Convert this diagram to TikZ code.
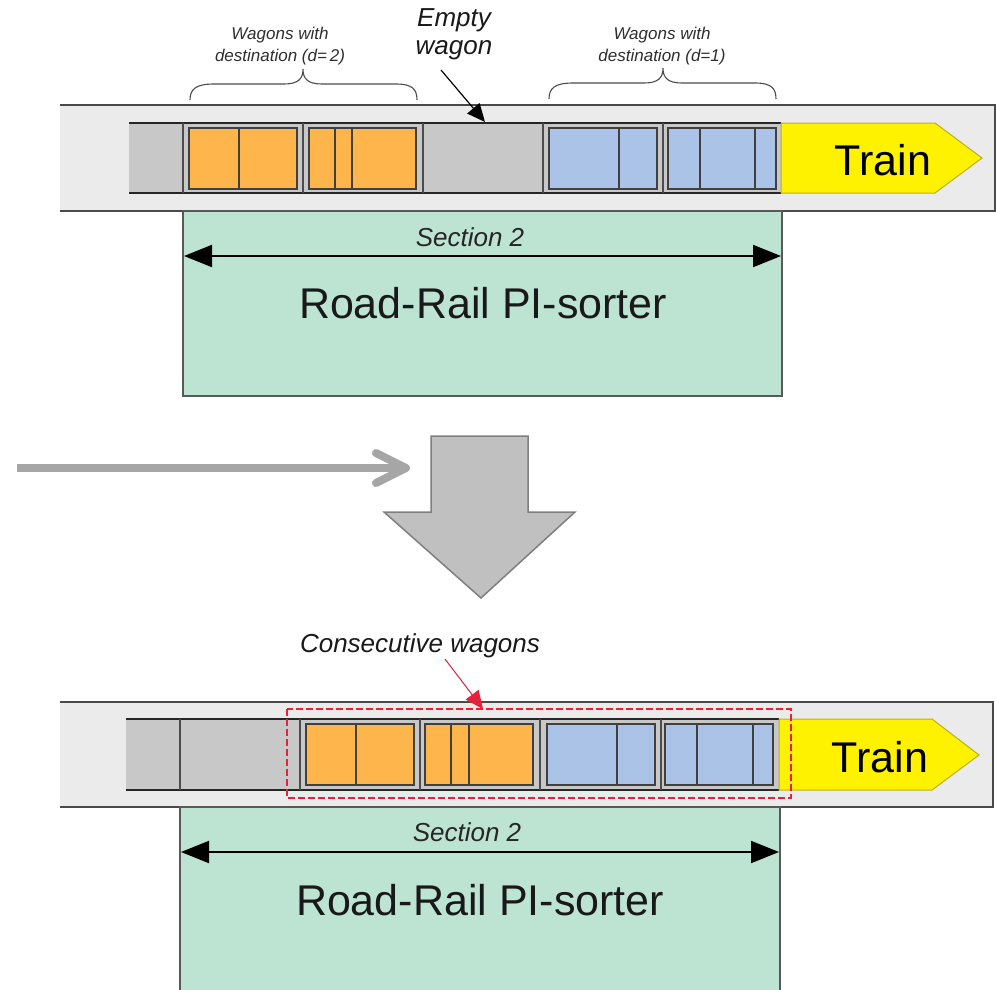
\documentclass[tikz,border=0pt]{standalone}
\usepackage{fontspec}
\setmainfont{Liberation Sans}
\usetikzlibrary{arrows.meta}
\definecolor{railc}{HTML}{EBEBEB}
\definecolor{raillinec}{HTML}{4A4A4A}
\definecolor{stripc}{HTML}{C8C8C8}
\definecolor{orangec}{HTML}{FDB54C}
\definecolor{bluec}{HTML}{AAC3E6}
\definecolor{yellowc}{HTML}{FFF200}
\definecolor{yellowline}{HTML}{B8AE2A}
\definecolor{greenc}{HTML}{BDE3D3}
\definecolor{redc}{HTML}{E8213A}
\definecolor{arrowgray}{HTML}{A6A6A6}
\definecolor{bigarrowc}{HTML}{C0C0C0}
\definecolor{bigarrowline}{HTML}{7F7F7F}
\definecolor{labelc}{HTML}{2E2E2E}
\newcommand\cargobox[6]{%
  \draw[cargoline, fill=#5] (#1,#3) rectangle (#2,#4);
  \foreach \dv in {#6} {\draw[cargoline] (\dv,#3) -- (\dv,#4);}%
}
\begin{document}
\begin{tikzpicture}[x=1pt,y=-1pt,
  railbox/.style={fill=railc, draw=none},
  railline/.style={draw=raillinec, line width=1.3pt},
  stripline/.style={draw=black!85, line width=1.2pt},
  divline/.style={draw=black!70, line width=1.5pt},
  cargoline/.style={draw=black!75, line width=1.1pt},
  trainshape/.style={fill=yellowc, draw=yellowline, line width=1pt},
  traintext/.style={font=\fontsize{43}{43}\selectfont, text=black},
  sorterbox/.style={fill=greenc, draw=black!65, line width=1.2pt},
  sortertext/.style={font=\fontsize{43}{43}\selectfont, text=black!90},
  sectiontext/.style={font=\fontsize{26}{26}\selectfont\itshape, text=black!85},
  sectionarrow/.style={line width=2pt, {Triangle[length=28pt,width=22pt]}-{Triangle[length=28pt,width=22pt]}},
  smalllabel/.style={font=\fontsize{17}{22}\selectfont\itshape, text=labelc, align=center},
  biglabel/.style={font=\fontsize{26}{28}\selectfont\itshape, text=black!90, align=center},
  bracestyle/.style={draw=black!70, line width=1.1pt},
  pointer/.style={line width=1.2pt, -{Triangle[length=18pt,width=16pt]}},
]
\useasboundingbox (0,0) rectangle (996,989);

% ================= TOP =================
\fill[railbox] (60,105) rectangle (995,211);
\draw[railline] (60,105) -- (995,105) -- (995,211) -- (60,211);
% strip
\fill[stripc] (129,123) rectangle (781,193);
\draw[stripline] (129,123) -- (781,123);
\draw[stripline] (129,193) -- (781,193);
\foreach \xv in {183,303,423,543,663} {\draw[divline] (\xv,123) -- (\xv,193);}
% cargo
\cargobox{189}{297}{128}{189}{orangec}{239}
\cargobox{309}{416}{128}{189}{orangec}{335,352}
\cargobox{549}{657}{128}{189}{bluec}{619}
\cargobox{668}{776}{128}{189}{bluec}{700,755}
% train
\draw[trainshape] (781,123) -- (935,123) -- (982,158) -- (935,193) -- (781,193) -- cycle;
\node[traintext] (train1) at (883,160) {Train};
% sorter
\draw[sorterbox] (183,211) rectangle (782,396);
\coordinate (s1l) at (184,256);
\coordinate (s1r) at (781,256);
\draw[sectionarrow] (s1l) -- (s1r);
\node[sectiontext] (sec1) at (470,237) {Section 2};
\node[sortertext] (sorter1) at (483,303) {Road-Rail PI-sorter};
% braces
\draw[bracestyle] (190,100) .. controls (190,89) and (196,84) .. (214,84) -- (284,84)
  .. controls (298,84) and (303,79) .. (303,69) .. controls (303,79) and (308,84) .. (322,84)
  -- (396,84) .. controls (412,84) and (417,89) .. (417,100);
\draw[bracestyle] (549,99) .. controls (549,88) and (555,83) .. (573,83) -- (644,83)
  .. controls (658,83) and (663,78) .. (663,68) .. controls (663,78) and (668,83) .. (682,83)
  -- (755,83) .. controls (771,83) and (776,88) .. (776,99);
\node[smalllabel] (lab2) at (280,46) {Wagons with\\destination (d=\,2)};
\node[smalllabel] (lab1) at (662,46) {Wagons with\\destination (d=1)};
\node[biglabel] (empty) at (454,34) {Empty\\wagon};
\coordinate (emptytip) at (485,122);
\draw[pointer] (441,70) -- (emptytip);

% ================= MIDDLE =================
\coordinate (gstart) at (17,468);
\coordinate (gend) at (405,468);
\draw[arrowgray, line width=8pt] (gstart) -- (gend);
\draw[arrowgray, line width=8pt, line cap=round, line join=round] (376,453) -- (406,468) -- (376,483);
\draw[fill=bigarrowc, draw=bigarrowline, line width=1.5pt]
  (431,436) -- (528,436) -- (528,512) -- (575,512) -- (481,598) -- (384,512) -- (431,512) -- cycle;

% ================= BOTTOM =================
\fill[railbox] (60,702) rectangle (993,807);
\draw[railline] (60,702) -- (993,702) -- (993,807) -- (60,807);
\fill[stripc] (126,719) rectangle (779,790);
\draw[stripline] (126,719) -- (779,719);
\draw[stripline] (126,790) -- (779,790);
\foreach \xv in {180,300,420,540,661} {\draw[divline] (\xv,719) -- (\xv,790);}
\cargobox{306}{414}{724}{785}{orangec}{356}
\cargobox{425}{533}{724}{785}{orangec}{451,469}
\cargobox{547}{655}{724}{785}{bluec}{617}
\cargobox{665}{773}{724}{785}{bluec}{697,753}
\draw[trainshape] (779,719) -- (932,719) -- (979,755) -- (932,790) -- (779,790) -- cycle;
\node[traintext] (train2) at (880,757) {Train};
\draw[redc, line width=1.8pt, dash pattern=on 7pt off 3pt] (287,709) rectangle (791,798);
\node[biglabel] (consec) at (420,646) {Consecutive wagons};
\coordinate (consectip) at (483,709);
\draw[pointer, draw=redc, fill=redc, line width=1pt] (445,659) -- (consectip);
\draw[sorterbox] (180,807) rectangle (780,995);
\coordinate (s2l) at (181,852);
\coordinate (s2r) at (779,852);
\draw[sectionarrow] (s2l) -- (s2r);
\node[sectiontext] (sec2) at (467,832) {Section 2};
\node[sortertext] (sorter2) at (480,900) {Road-Rail PI-sorter};
\end{tikzpicture}
\end{document}
